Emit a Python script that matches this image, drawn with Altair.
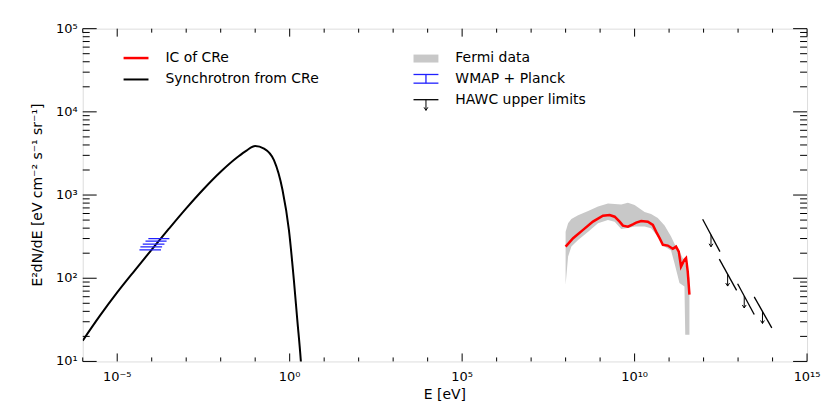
import altair as alt
import pandas as pd

# ---------------- data ----------------
# Synchrotron from CRe (black)
syn_E = [1.0e-6, 3.16e-6, 1.0e-5, 3.16e-5, 1.0e-4, 3.16e-4, 1.0e-3, 3.16e-3, 1.0e-2,
         3.16e-2, 5.6e-2, 0.1, 0.18, 0.35, 0.62, 0.95, 1.32, 1.66, 2.09, 2.24]
syn_F = [17.8, 35.5, 67.6, 123, 221, 394, 692, 1175, 1905,
         2884, 3428, 3890, 3620, 2625, 1148, 381, 96, 31.8, 10.6, 7.0]

# IC of CRe (red)
ic_E = [1.0e8, 1.65e8, 3.2e8, 6.2e8, 1.21e9, 1.89e9, 2.64e9, 3.68e9, 4.59e9, 6.4e9,
        8.9e9, 1.11e10, 1.55e10, 2.42e10, 3.38e10, 4.2e10, 5.3e10, 6.6e10, 9.2e10,
        1.28e11, 1.59e11, 1.91e11, 2.22e11, 2.79e11, 3.1e11, 3.47e11, 3.89e11]
ic_F = [240, 303, 381, 479, 565, 575, 549, 479, 429, 417,
        445, 466, 488, 479, 437, 363, 303, 252, 247,
        226, 240, 209, 138, 167, 175, 121, 63.4]

# Fermi data band (grey)
fermi_E = [1.0e8, 1.18e8, 1.47e8, 2.3e8, 4.5e8, 8.7e8, 1.69e9, 2.64e9, 4.1e9, 6.4e9,
           1.0e10, 1.95e10, 3.0e10, 4.7e10, 7.4e10, 1.14e11, 1.43e11, 2.0e11,
           2.79e11, 2.94e11, 3.89e11]
fermi_hi = [363, 458, 516, 570, 643, 728, 791, 780, 769, 809,
            759, 625, 591, 531, 431, 317, 259, 209, 158, 149, 101]
fermi_lo = [83.6, 182, 240, 289, 363, 458, 502, 479, 392, 403,
            420, 420, 399, 317, 240, 215, 152, 87.7, 79.8, 21.0, 21.0]

# WMAP + Planck (blue)
wmap_Elo = [8.0e-5, 6.6e-5, 5.5e-5, 4.7e-5, 4.4e-5]
wmap_Ehi = [3.25e-4, 2.7e-4, 2.34e-4, 2.0e-4, 1.86e-4]
wmap_F = [300, 279, 257, 238, 219]

# HAWC upper limits
hawc_E1 = [9.4e11, 2.86e12, 9.7e12, 2.94e13]
hawc_E2 = [2.98e12, 9.06e12, 2.94e13, 9.5e13]
hawc_F1 = [512, 170, 85.9, 59.6]
hawc_F2 = [209, 71.4, 36.6, 25.3]
arrow_E = [1.64e12, 4.98e12, 1.51e13, 5.1e13]
arrow_Ftop = [333, 112, 61.1, 39.9]
arrow_Fbot = [239, 80.5, 43.9, 28.6]

# axes
x_label_vals = [1e-5, 1e0, 1e5, 1e10, 1e15]
x_label_txt = ["10\u207b\u2075", "10\u2070", "10\u2075", "10\u00b9\u2070", "10\u00b9\u2075"]
x_minor_vals = [10.0 ** k for k in range(-6, 16) if k % 5 != 0]
y_label_vals = [1e1, 1e2, 1e3, 1e4, 1e5]
y_label_txt = ["10\u00b9", "10\u00b2", "10\u00b3", "10\u2074", "10\u2075"]
y_minor_vals = [m * 10.0 ** k for k in range(1, 5) for m in range(2, 10)]

legend_left = ["IC of CRe", "Synchrotron from CRe"]
legend_right = ["Fermi data", "WMAP + Planck", "HAWC upper limits"]

x_title = "E [eV]"
y_title = "E\u00b2dN/dE [eV cm\u207b\u00b2 s\u207b\u00b9 sr\u207b\u00b9]"

# ---------------- layout ----------------
W, H = 727, 334
FONT = "DejaVu Sans"
FS = 13
LFS = 14

xscale = alt.Scale(type="log", domain=[1e-6, 1e15], nice=False)
yscale = alt.Scale(type="log", domain=[1e1, 1e5], nice=False)


def X(field):
    return alt.X(field, scale=xscale, axis=None)


def Y(field):
    return alt.Y(field, scale=yscale, axis=None)


# ---- inward ticks on all four sides ----
XMAJ, XMIN, YMAJ, YMIN = 8, 4, 14, 7
xmaj_df = pd.DataFrame({"v": x_label_vals, "t": x_label_txt})
xmin_df = pd.DataFrame({"v": x_minor_vals})
ymaj_df = pd.DataFrame({"v": y_label_vals, "t": y_label_txt})
ymin_df = pd.DataFrame({"v": y_minor_vals})


def xticks(df, length, bottom=True):
    y0 = H if bottom else 0
    y1 = H - length if bottom else length
    return alt.Chart(df).mark_rule(color="black", strokeWidth=1).encode(
        x=X("v:Q"), y=alt.value(y0), y2=alt.value(y1))


def yticks(df, length, left=True):
    x0 = 0 if left else W
    x1 = length if left else W - length
    return alt.Chart(df).mark_rule(color="black", strokeWidth=1).encode(
        y=Y("v:Q"), x=alt.value(x0), x2=alt.value(x1))


tick_layers = [xticks(xmaj_df, XMAJ, True), xticks(xmaj_df, XMAJ, False),
               xticks(xmin_df, XMIN, True), xticks(xmin_df, XMIN, False),
               yticks(ymaj_df, YMAJ, True), yticks(ymaj_df, YMAJ, False),
               yticks(ymin_df, YMIN, True), yticks(ymin_df, YMIN, False)]

# tick labels and axis titles as text
x_labels = alt.Chart(xmaj_df).mark_text(font=FONT, fontSize=FS, color="black",
                                        baseline="middle", align="center").encode(
    x=X("v:Q"), y=alt.value(H + 16), text="t:N")
y_labels = alt.Chart(ymaj_df).mark_text(font=FONT, fontSize=FS, color="black",
                                        baseline="middle", align="right").encode(
    y=Y("v:Q"), x=alt.value(-5), text="t:N")
x_tl = alt.Chart(pd.DataFrame({"t": [x_title]})).mark_text(
    font=FONT, fontSize=LFS, color="black", baseline="middle", align="center").encode(
    x=alt.value(W / 2), y=alt.value(H + 34), text="t:N")
y_tl = alt.Chart(pd.DataFrame({"t": [y_title]})).mark_text(
    font=FONT, fontSize=LFS, color="black", baseline="middle", align="center",
    angle=270).encode(x=alt.value(-45), y=alt.value(H / 2), text="t:N")

band_df = pd.DataFrame({"E": fermi_E, "hi": fermi_hi, "lo": fermi_lo})
band = alt.Chart(band_df).mark_area(color="#c8c8c8", opacity=1).encode(
    x=X("E:Q"), y=Y("hi:Q"), y2=alt.Y2("lo:Q"))

syn_df = pd.DataFrame({"E": syn_E, "F": syn_F})
syn = alt.Chart(syn_df).mark_line(color="black", strokeWidth=2, interpolate="monotone",
                                  clip=True).encode(x=X("E:Q"), y=Y("F:Q"), order="E:Q")

ic_df = pd.DataFrame({"E": ic_E, "F": ic_F})
ic = alt.Chart(ic_df).mark_line(color="#ff0000", strokeWidth=2.5, clip=True).encode(
    x=X("E:Q"), y=Y("F:Q"), order="E:Q")

wmap_df = pd.DataFrame({"lo": wmap_Elo, "hi": wmap_Ehi, "F": wmap_F})
wmap = alt.Chart(wmap_df).mark_rule(color="#2020ff", strokeWidth=1.3, clip=True).encode(
    x=X("lo:Q"), x2="hi:Q", y=Y("F:Q"))

hawc_df = pd.DataFrame({"E1": hawc_E1, "E2": hawc_E2, "F1": hawc_F1, "F2": hawc_F2})
hawc = alt.Chart(hawc_df).mark_rule(color="black", strokeWidth=1.3, clip=True).encode(
    x=X("E1:Q"), x2="E2:Q", y=Y("F1:Q"), y2="F2:Q")

arr_df = pd.DataFrame({"E": arrow_E, "top": arrow_Ftop, "bot": arrow_Fbot})
arr_shaft = alt.Chart(arr_df).mark_rule(color="black", strokeWidth=1).encode(
    x=X("E:Q"), y=Y("top:Q"), y2="bot:Q")
HEAD = "M-0.7,-1.1 L0,0 L0.7,-1.1"
arr_head = alt.Chart(arr_df).mark_point(shape=HEAD, filled=False, color="black",
                                        strokeWidth=1, size=30, opacity=1).encode(
    x=X("E:Q"), y=Y("bot:Q"))

# ---- legend (pixel positions inside the plot area) ----
one = pd.DataFrame({"a": [0]})


def seg(x1, x2, y1, y2, color, sw):
    return alt.Chart(one).mark_rule(color=color, strokeWidth=sw).encode(
        x=alt.value(x1), x2=alt.value(x2), y=alt.value(y1), y2=alt.value(y2))


def txt(x, y, s):
    return alt.Chart(pd.DataFrame({"t": [s]})).mark_text(
        align="left", baseline="middle", font=FONT, fontSize=LFS, color="black").encode(
        x=alt.value(x), y=alt.value(y), text="t:N")


LX1, LX2, LTX = 41, 66, 83
RX1, RX2, RTX = 332, 357, 374
RXM = (RX1 + RX2) / 2
legend = [
    seg(LX1, LX2, 29.5, 29.5, "#ff0000", 2.5), txt(LTX, 29.5, legend_left[0]),
    seg(LX1, LX2, 51, 51, "black", 2), txt(LTX, 50.5, legend_left[1]),
    alt.Chart(one).mark_rect(color="#c8c8c8").encode(
        x=alt.value(RX1), x2=alt.value(RX2), y=alt.value(26), y2=alt.value(34)),
    txt(RTX, 29.5, legend_right[0]),
    seg(RX1, RX2, 46, 46, "#2020ff", 1.3), seg(RX1, RX2, 54.7, 54.7, "#2020ff", 1.3),
    seg(RXM, RXM, 46, 54.7, "#2020ff", 1.3),
    txt(RTX, 51, legend_right[1]),
    seg(RX1, RX2, 71.3, 71.3, "black", 1.3), seg(RXM, RXM, 71.3, 82, "black", 1),
    alt.Chart(one).mark_point(shape=HEAD, filled=False, color="black", strokeWidth=1,
                              size=30, opacity=1).encode(x=alt.value(RXM), y=alt.value(82)),
    txt(RTX, 72, legend_right[2]),
]

chart = alt.layer(band, syn, ic, wmap, hawc, arr_shaft, arr_head,
                  *tick_layers, x_labels, y_labels, x_tl, y_tl, *legend).properties(
    width=W, height=H,
    padding={"left": 75, "top": 20, "right": 15, "bottom": 45},
    autosize=alt.AutoSizeParams(type="none"),
).configure_view(stroke="black", strokeWidth=1).configure(background="white")

chart.save("out.html", embed_options={"renderer": "svg", "actions": False})
